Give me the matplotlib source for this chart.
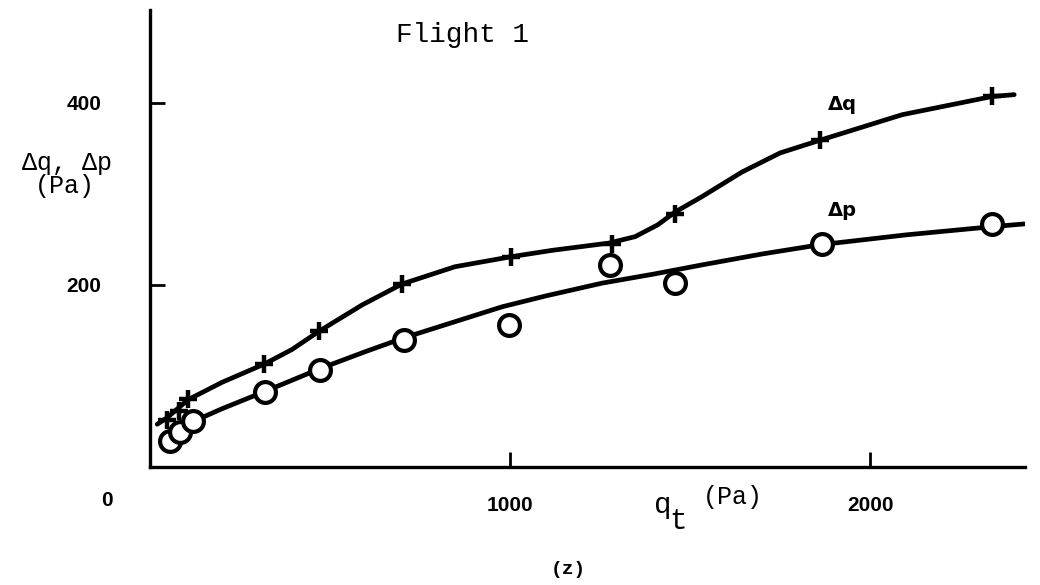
import matplotlib
matplotlib.use("Agg")
import matplotlib.pyplot as plt

# ---- data ----
dq_curve_x = [20, 47, 106, 200, 317, 394, 469, 589, 700, 847, 1003, 1117, 1275, 1347, 1410, 1458, 1533, 1644, 1750, 1861, 2089, 2339, 2400]
dq_curve_y = [47, 54, 74, 93, 113, 129, 149, 178, 201, 220, 231, 238, 246, 253, 266, 280, 297, 324, 345, 359, 387, 407, 409]

dp_curve_x = [40, 120, 200, 319, 472, 600, 706, 850, 978, 1100, 1256, 1400, 1533, 1700, 1858, 2100, 2339, 2428]
dp_curve_y = [24, 50, 64, 83, 108, 127, 142, 160, 176, 188, 202, 212, 222, 234, 244, 255, 264, 267]

dq_pts_x = [47, 80, 106, 317, 469, 700, 1003, 1283, 1458, 1861, 2339]
dq_pts_y = [52, 62, 75, 113, 149, 201, 231, 245, 278, 359, 407]

dp_pts_x = [55, 83, 120, 319, 472, 706, 997, 1278, 1458, 1867, 2339]
dp_pts_y = [29, 38, 50, 82, 107, 140, 156, 222, 202, 245, 267]

x_ticks = [1000, 2000]
x_tick_labels = ["1000", "2000"]
y_ticks = [200, 400]
y_tick_labels = ["200", "400"]

W, H = 1040, 585
fig = plt.figure(figsize=(W / 100, H / 100), dpi=100)
ax = fig.add_axes([150 / W, (H - 467) / H, 875 / W, 457 / H])
ax.set_xlim(0, 2430)
ax.set_ylim(0, 502)

lw = 3.4
ax.plot(dq_curve_x, dq_curve_y, color="black", lw=lw, solid_capstyle="round", solid_joinstyle="round")
ax.plot(dp_curve_x, dp_curve_y, color="black", lw=lw, solid_capstyle="round", solid_joinstyle="round")
ax.plot(dq_pts_x, dq_pts_y, ls="none", marker="+", ms=13, mew=3.2, color="black")
ax.plot(dp_pts_x, dp_pts_y, ls="none", marker="o", ms=15, mew=3.0, mfc="white", mec="black")

for s in ["top", "right"]:
    ax.spines[s].set_visible(False)
for s in ["left", "bottom"]:
    ax.spines[s].set_linewidth(2.4)

tick_font = dict(family=["Liberation Sans", "DejaVu Sans"], weight="bold", size=15)
ax.set_xticks(x_ticks)
ax.set_xticklabels(x_tick_labels, **tick_font)
ax.set_yticks(y_ticks)
ax.set_yticklabels(y_tick_labels, **tick_font)
ax.tick_params(axis="x", direction="in", length=11, width=2, pad=21)
ax.tick_params(axis="y", direction="in", length=11, width=2, pad=35)

mono = ["Liberation Mono", "DejaVu Sans Mono"]

def ftext(x, y, s, **kw):
    fig.text(x / W, 1 - y / H, s, **kw)

ftext(463, 35, "Flight 1", family=mono, size=20, ha="center", va="center")
ftext(67, 163, "Δq, Δp", family=mono, size=18, ha="center", va="center")
ftext(65, 186, "(Pa)", family=mono, size=18, ha="center", va="center")
ftext(107, 500, "0", size=15, weight="bold", family=["Liberation Sans", "DejaVu Sans"], ha="center", va="center")
ftext(663, 505, "q", family=mono, size=21, ha="center", va="center")
ftext(678, 521, "t", family=mono, size=21, ha="center", va="center")
ftext(733, 497, "(Pa)", family=mono, size=18, ha="center", va="center")
ftext(568, 570, "(z)", family=mono, size=14, weight="bold", ha="center", va="center")
ftext(842, 104, "Δq", size=14, weight="bold", ha="center", va="center")
ftext(842, 210, "Δp", size=14, weight="bold", ha="center", va="center")

fig.savefig("out.png", dpi=100)
